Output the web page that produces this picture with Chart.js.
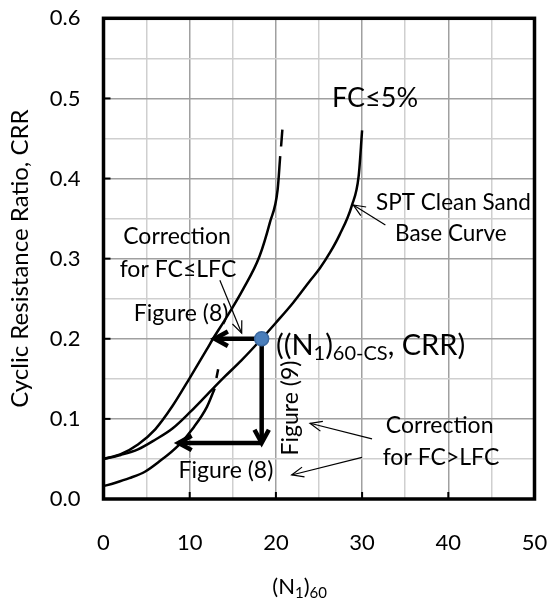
<!DOCTYPE html>
<html>
<head>
<meta charset="utf-8">
<script src="https://cdn.jsdelivr.net/npm/chart.js@4.4.1/dist/chart.umd.min.js"></script>
<style>
  html, body { margin: 0; padding: 0; background: #fff; }
  #wrap { width: 551px; height: 603px; }
</style>
</head>
<body>
<div id="wrap"><canvas id="crrChart" width="551" height="603"></canvas></div>
<script>
// SPT clean sand base curve (FC <= 5%)
const baseN   = [0, 2, 4, 6, 8, 10, 12, 14, 16, 18.35, 20, 22, 24, 25.1, 26.3, 27.4, 28.8, 29.6, 30];
const baseCRR = [0.05, 0.055, 0.062, 0.074, 0.088, 0.108, 0.130, 0.152, 0.173, 0.2, 0.22, 0.245, 0.273, 0.288, 0.308, 0.33, 0.366, 0.403, 0.46];

// correction for FC <= LFC (left curve) + its dashed top
const lowN   = [0, 2, 4, 6, 8, 10, 12, 12.7, 14, 16.2, 18.1, 19.3, 20.2, 20.5];
const lowCRR = [0.05, 0.056, 0.068, 0.087, 0.116, 0.151, 0.187, 0.2, 0.222, 0.262, 0.303, 0.345, 0.386, 0.428];
const lowDashN   = [20.6, 20.75];
const lowDashCRR = [0.44, 0.461];

// correction for FC > LFC (lower curve) + its dashed top
const highN   = [0, 1.3, 3, 4.8, 6.5, 8.7, 10.5, 12, 12.9];
const highCRR = [0.016, 0.02, 0.026, 0.034, 0.047, 0.067, 0.09, 0.115, 0.138];
const highDashN   = [13.1, 13.3];
const highDashCRR = [0.151, 0.162];

// ((N1)60-CS, CRR) point and the thick arrows leaving it
const pointN   = [18.35];
const pointCRR = [0.2];
const arrowLeftN    = [18.35, 12.9];
const arrowLeftCRR  = [0.2, 0.2];
const arrowDownN    = [18.35, 18.35];
const arrowDownCRR  = [0.2, 0.07];
const arrowLowN     = [18.35, 8.7];
const arrowLowCRR   = [0.07, 0.07];

// thin leader arrows
const leaderFromN   = [32.7, 13.5, 31.15, 29.99];
const leaderFromCRR = [0.342, 0.273, 0.075, 0.052];
const leaderToN     = [28.98, 16.03, 23.96, 21.83];
const leaderToCRR   = [0.367, 0.207, 0.0945, 0.030];

// tick labels
const xTickLabels = ['0', '10', '20', '30', '40', '50'];
const yTickLabels = ['0.0', '0.1', '0.2', '0.3', '0.4', '0.5', '0.6'];

const FONT = 'Lato, "Open Sans", sans-serif';

function pairs(xs, ys) {
  return xs.map((v, i) => ({ x: v, y: ys[i] }));
}

function curve(xs, ys) {
  return {
    data: pairs(xs, ys),
    showLine: true,
    borderColor: '#000',
    borderWidth: 2.5,
    pointRadius: 0,
    cubicInterpolationMode: 'monotone',
    fill: false
  };
}

function shaft(xs, ys) {
  return {
    data: pairs(xs, ys),
    showLine: true,
    borderColor: '#000',
    borderWidth: 4.5,
    pointRadius: 0,
    tension: 0,
    fill: false
  };
}

// draw text made of normal and subscript parts
function drawParts(ctx, parts, x, y, size, align) {
  const subSize = Math.round(size * 0.68);
  let total = 0;
  parts.forEach(p => {
    ctx.font = (p.sub ? subSize : size) + 'px ' + FONT;
    total += ctx.measureText(p.t).width;
  });
  let cx = align === 'left' ? x : x - total / 2;
  ctx.textAlign = 'left';
  ctx.textBaseline = 'middle';
  parts.forEach(p => {
    ctx.font = (p.sub ? subSize : size) + 'px ' + FONT;
    ctx.fillText(p.t, cx, p.sub ? y + size * 0.28 : y);
    cx += ctx.measureText(p.t).width;
  });
}

function chevron(ctx, fromX, fromY, tipX, tipY, len, half) {
  const ang = Math.atan2(tipY - fromY, tipX - fromX);
  ctx.beginPath();
  ctx.moveTo(tipX - len * Math.cos(ang - half), tipY - len * Math.sin(ang - half));
  ctx.lineTo(tipX, tipY);
  ctx.lineTo(tipX - len * Math.cos(ang + half), tipY - len * Math.sin(ang + half));
  ctx.stroke();
}

// frame, inward ticks, arrow heads and all annotation text
const notesPlugin = {
  id: 'notes',
  afterDatasetsDraw(chart) {
    const { ctx, chartArea: a, scales: { x, y } } = chart;
    ctx.save();
    ctx.strokeStyle = '#000';
    ctx.fillStyle = '#000';

    // inward tick marks at major values
    ctx.lineWidth = 2;
    for (let v = 10; v < 50; v += 10) {
      const px = x.getPixelForValue(v);
      ctx.beginPath(); ctx.moveTo(px, a.bottom); ctx.lineTo(px, a.bottom - 7); ctx.stroke();
    }
    for (let v = 1; v < 6; v++) {
      const py = y.getPixelForValue(v / 10);
      ctx.beginPath(); ctx.moveTo(a.left, py); ctx.lineTo(a.left + 7, py); ctx.stroke();
    }

    // thick plot frame
    ctx.lineWidth = 3.5;
    ctx.strokeRect(a.left, a.top, a.right - a.left, a.bottom - a.top);

    // thick arrow heads
    ctx.lineWidth = 4.5;
    ctx.lineJoin = 'miter';
    [[arrowLeftN, arrowLeftCRR], [arrowDownN, arrowDownCRR], [arrowLowN, arrowLowCRR]].forEach(([n, c]) => {
      chevron(ctx, x.getPixelForValue(n[0]), y.getPixelForValue(c[0]),
        x.getPixelForValue(n[1]), y.getPixelForValue(c[1]), 15, 0.5);
    });

    // thin leader arrows
    ctx.lineWidth = 1.2;
    leaderFromN.forEach((n, i) => {
      const fx = x.getPixelForValue(n), fy = y.getPixelForValue(leaderFromCRR[i]);
      const tx = x.getPixelForValue(leaderToN[i]), ty = y.getPixelForValue(leaderToCRR[i]);
      ctx.beginPath(); ctx.moveTo(fx, fy); ctx.lineTo(tx, ty); ctx.stroke();
      chevron(ctx, fx, fy, tx, ty, 13, 0.4);
    });

    // labels
    const T = (parts, n, c, size, align) =>
      drawParts(ctx, parts, x.getPixelForValue(n), y.getPixelForValue(c), size, align || 'center');
    T([{ t: 'FC≤5%' }], 31.5, 0.5, 27);
    T([{ t: 'SPT Clean Sand' }], 40.6, 0.3695, 22.5);
    T([{ t: 'Base Curve' }], 40.3, 0.331, 22.5);
    T([{ t: 'Correction' }], 8.53, 0.327, 23);
    T([{ t: 'for FC≤LFC' }], 8.64, 0.286, 23);
    T([{ t: 'Figure (8)' }], 9.0, 0.231, 23);
    T([{ t: 'Figure (8)' }], 14.2, 0.036, 23);
    T([{ t: 'Correction' }], 39.0, 0.092, 23);
    T([{ t: 'for FC>LFC' }], 39.15, 0.052, 23);
    T([{ t: '((N' }, { t: '1', sub: true }, { t: ')' }, { t: '60-CS', sub: true }, { t: ', CRR)' }],
      20.0, 0.192, 29, 'left');

    // rotated Figure (9)
    ctx.save();
    ctx.translate(x.getPixelForValue(21.75), y.getPixelForValue(0.1136));
    ctx.rotate(-Math.PI / 2);
    drawParts(ctx, [{ t: 'Figure (9)' }], 0, 0, 23, 'center');
    ctx.restore();

    // x axis title with subscripts
    drawParts(ctx, [{ t: '(N' }, { t: '1', sub: true }, { t: ')' }, { t: '60', sub: true }],
      a.left + (a.right - a.left) * 0.455, a.bottom + 88, 22, 'center');

    ctx.restore();
  }
};

function initChart() {
  const canvas = document.getElementById('crrChart');

  new Chart(canvas, {
    type: 'scatter',
    data: {
      datasets: [
        {
          data: pairs(pointN, pointCRR),
          pointRadius: 7,
          pointBackgroundColor: '#4a7ebb',
          pointBorderColor: '#3c69a0',
          pointBorderWidth: 1.5,
          showLine: false
        },
        shaft(arrowLeftN, arrowLeftCRR),
        shaft(arrowDownN, arrowDownCRR),
        shaft(arrowLowN, arrowLowCRR),
        curve(baseN, baseCRR),
        curve(lowN, lowCRR),
        curve(lowDashN, lowDashCRR),
        curve(highN, highCRR),
        curve(highDashN, highDashCRR)
      ]
    },
    options: {
      responsive: false,
      animation: false,
      devicePixelRatio: 1,
      layout: { padding: { top: 18.3, right: 16.5, left: 0, bottom: 0 } },
      plugins: {
        legend: { display: false },
        tooltip: { enabled: false }
      },
      scales: {
        x: {
          type: 'linear',
          min: 0,
          max: 50,
          // fixed axis band, and no extra room for the end labels
          afterFit: s => { s.height = 104; s.paddingLeft = 0; s.paddingRight = 0; },
          ticks: {
            stepSize: 5,
            autoSkip: false,
            maxRotation: 0,
            padding: 31,
            color: '#000',
            font: { family: FONT, size: 22 },
            callback: v => (v % 10 === 0 ? xTickLabels[v / 10] : '')
          },
          grid: {
            drawTicks: false,
            lineWidth: 1.5,
            color: c => (c.tick && c.tick.value % 10 === 0 ? '#a0a0a0' : '#cfcfcf')
          },
          border: { display: false }
        },
        y: {
          type: 'linear',
          min: 0,
          max: 0.6,
          afterFit: s => { s.width = 103.5; s.paddingTop = 0; s.paddingBottom = 0; },
          ticks: {
            stepSize: 0.05,
            autoSkip: false,
            padding: 23,
            color: '#000',
            font: { family: FONT, size: 22 },
            callback: v => {
              const k = Math.round(v * 20);
              return k % 2 === 0 ? yTickLabels[k / 2] : '';
            }
          },
          grid: {
            drawTicks: false,
            lineWidth: 1.5,
            color: c => (c.tick && Math.round(c.tick.value * 20) % 2 === 0 ? '#a0a0a0' : '#cfcfcf')
          },
          border: { display: false },
          title: {
            display: true,
            text: 'Cyclic Resistance Ratio, CRR',
            color: '#000',
            font: { family: FONT, size: 24 },
            padding: { top: 6, bottom: 0 }
          }
        }
      }
    },
    plugins: [notesPlugin]
  });
}

document.fonts.load('22px Lato').then(initChart, initChart);
</script>
</body>
</html>
